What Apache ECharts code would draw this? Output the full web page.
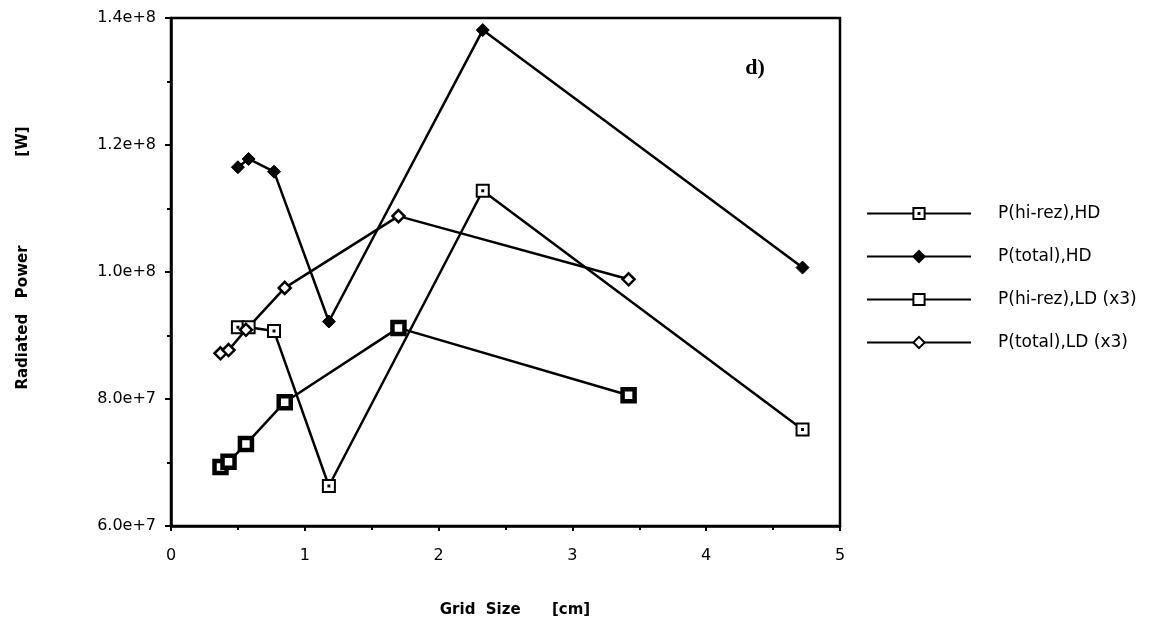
<!DOCTYPE html>
<html>
<head>
<meta charset="utf-8">
<script src="https://cdn.jsdelivr.net/npm/echarts@6/dist/echarts.min.js"></script>
<style>
  html, body { margin: 0; padding: 0; background: #fff; }
  #chart { width: 1176px; height: 622px; }
</style>
</head>
<body>
<div id="chart"></div>
<script>
// Grid sizes [cm] for the high-density (HD) and low-density (LD) runs
const gridSizeHD = [0.50, 0.58, 0.77, 1.18, 2.33, 4.72];
const gridSizeLD = [0.37, 0.43, 0.56, 0.85, 1.70, 3.42];

// Radiated power [W]
const hiRezHD = [9.13e7, 9.13e7, 9.07e7, 6.63e7, 1.128e8, 7.52e7];
const totalHD = [1.165e8, 1.178e8, 1.158e8, 9.22e7, 1.381e8, 1.007e8];
const hiRezLD = [6.93e7, 7.01e7, 7.29e7, 7.95e7, 9.12e7, 8.06e7];
const totalLD = [8.72e7, 8.77e7, 9.09e7, 9.75e7, 1.088e8, 9.885e7];

const seriesNames = ['P(hi-rez),HD', 'P(total),HD', 'P(hi-rez),LD (x3)', 'P(total),LD (x3)'];
const xTitle = 'Grid  Size      [cm]';
const yTitle = 'Radiated   Power                 [W]';
const panelTag = 'd)';

const pairs = (xs, ys) => xs.map((x, i) => [x, ys[i]]);

// square outline with a small centre dot (dot drawn by the stroke)
const dottedSquare = 'path://M0,0H10V10H0Z M4.6,4.6H5.4V5.4H4.6Z';

const font = '"DejaVu Sans", Verdana, sans-serif';

const lineBase = {
  type: 'line',
  lineStyle: { color: '#000', width: 2.5 },
  emphasis: { disabled: true },
  animation: false
};

const chart = echarts.init(document.getElementById('chart'));
chart.setOption({
  backgroundColor: '#fff',
  animation: false,
  grid: {
    left: 171, right: 336, top: 18, bottom: 96,
    show: true, borderColor: '#000', borderWidth: 2.5
  },
  xAxis: {
    type: 'value',
    min: 0, max: 5, interval: 1,
    axisLine: { show: true, lineStyle: { color: '#000', width: 2.5 } },
    axisTick: { show: true, inside: false, length: 5, lineStyle: { color: '#000', width: 2 } },
    minorTick: { show: true, splitNumber: 2, length: 4, lineStyle: { color: '#000', width: 2 } },
    splitLine: { show: false },
    axisLabel: { fontFamily: font, fontSize: 16, color: '#000', margin: 22 }
  },
  yAxis: {
    type: 'value',
    min: 6e7, max: 1.4e8, interval: 2e7,
    axisLine: { show: true, lineStyle: { color: '#000', width: 2.5 } },
    axisTick: { show: true, inside: false, length: 6, lineStyle: { color: '#000', width: 2 } },
    minorTick: { show: true, splitNumber: 2, length: 4, lineStyle: { color: '#000', width: 2 } },
    splitLine: { show: false },
    axisLabel: {
      fontFamily: font, fontSize: 16, color: '#000', margin: 15,
      formatter: v => v.toExponential(1)
    }
  },
  legend: {
    orient: 'vertical',
    left: 861, top: 200,
    itemWidth: 104, itemHeight: 14,
    itemGap: 26,
    data: seriesNames,
    selectedMode: false,
    textStyle: { fontFamily: font, fontSize: 17, color: '#000', padding: [0, 0, 0, 22] }
  },
  graphic: [
    {
      type: 'text',
      x: 515, y: 610,
      style: {
        text: xTitle, font: 'bold 15px "DejaVu Sans", sans-serif', fill: '#000',
        align: 'center', verticalAlign: 'middle'
      }
    },
    {
      type: 'text',
      x: 23, y: 258,
      rotation: Math.PI / 2,
      style: {
        text: yTitle, font: 'bold 15px "DejaVu Sans", sans-serif', fill: '#000',
        align: 'center', verticalAlign: 'middle'
      }
    },
    {
      type: 'text',
      x: 755, y: 68,
      style: {
        text: panelTag, font: 'bold 22px "Liberation Serif", "DejaVu Serif", serif', fill: '#000',
        align: 'center', verticalAlign: 'middle'
      }
    }
  ],
  series: [
    Object.assign({}, lineBase, {
      name: seriesNames[0],
      data: pairs(gridSizeHD, hiRezHD),
      symbol: dottedSquare, symbolSize: 12, symbolKeepAspect: true,
      itemStyle: { color: '#fff', borderColor: '#000', borderWidth: 2 }
    }),
    Object.assign({}, lineBase, {
      name: seriesNames[1],
      data: pairs(gridSizeHD, totalHD),
      symbol: 'diamond', symbolSize: 13,
      itemStyle: { color: '#000', borderColor: '#000', borderWidth: 1 }
    }),
    Object.assign({}, lineBase, {
      name: seriesNames[2],
      data: pairs(gridSizeLD, hiRezLD),
      symbol: 'rect', symbolSize: 12,
      itemStyle: { color: '#fff', borderColor: '#000', borderWidth: 4.5 }
    }),
    Object.assign({}, lineBase, {
      name: seriesNames[3],
      data: pairs(gridSizeLD, totalLD),
      symbol: 'diamond', symbolSize: 12,
      itemStyle: { color: '#fff', borderColor: '#000', borderWidth: 2.5 }
    })
  ]
});
</script>
</body>
</html>
